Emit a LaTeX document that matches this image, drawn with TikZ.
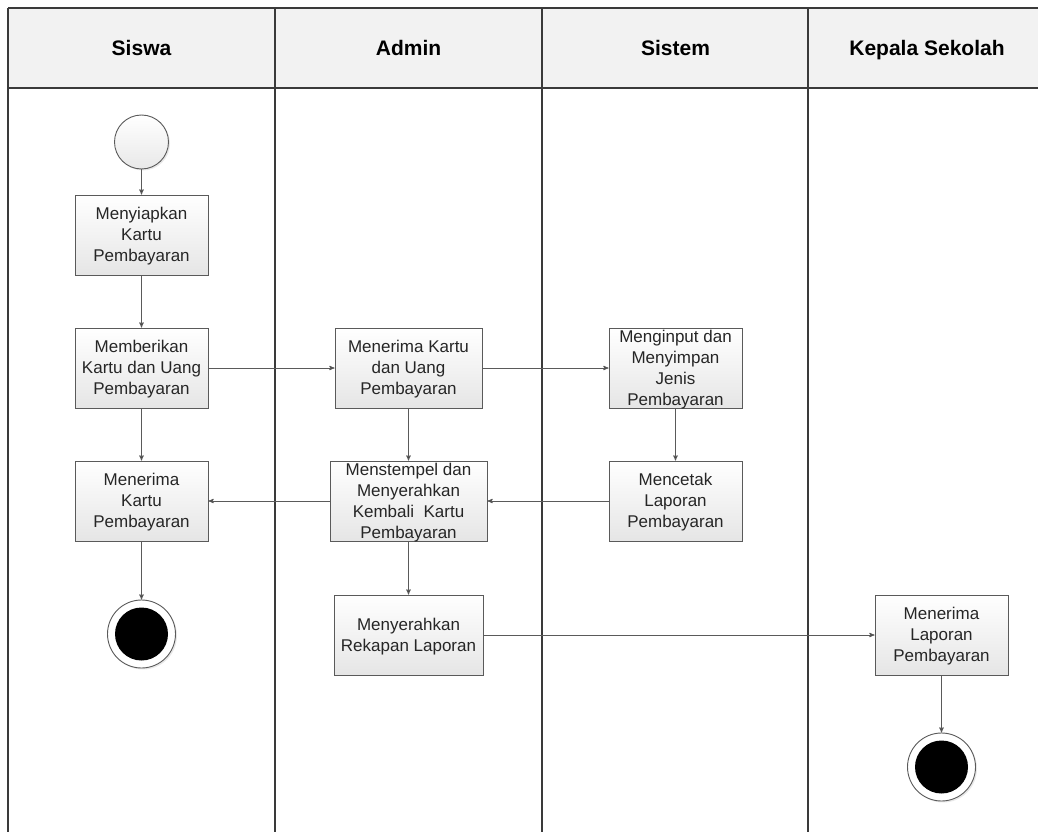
\documentclass[tikz,border=0pt]{standalone}
\usepackage{fontspec}
\setmainfont{Liberation Sans}
\usetikzlibrary{positioning, arrows, shadows}
\definecolor{lanegray}{HTML}{3A3A3A}
\definecolor{linegray}{HTML}{5A5A5A}
\definecolor{headfill}{HTML}{F2F2F2}
\tikzset{
	node distance=133pt,
	>=stealth',
	act/.style={draw=linegray, line width=0.9pt, top color=white, bottom color=gray!20,
		minimum width=133pt, minimum height=80pt, inner sep=0pt,
		font=\fontsize{17}{21}\selectfont, text=black!85},
	start/.style={circle, draw=linegray, line width=0.9pt, top color=white, bottom color=gray!18,
		minimum size=54pt, drop shadow={opacity=0.18, shadow xshift=1.5pt, shadow yshift=-1.5pt}},
	final/.style={circle, draw=linegray, line width=0.9pt, fill=white, minimum size=68pt,
		drop shadow={opacity=0.18, shadow xshift=1.5pt, shadow yshift=-1.5pt},
		path picture={\fill[black] (path picture bounding box.center) circle (26.5pt);}},
	lane/.style={draw=lanegray, line width=1.6pt},
	lanename/.style={font=\fontsize{21}{25}\selectfont\bfseries, text=black,
		text height=15pt, text depth=4pt},
	flow/.style={->, draw=linegray, line width=0.9pt}
}
\newcommand{\actlines}[1]{\smash{\raisebox{-6pt}{\begin{tabular}{@{}c@{}}#1\end{tabular}}}}

\begin{document}
\begin{tikzpicture}[x=1pt, y=-1pt]
		\useasboundingbox (0,0) rectangle (1038,832);
		%lanes
		\fill[headfill] (8,8) rectangle (1038,88);
		\draw[lane] (8,8) -- (1038,8) (8,88) -- (1038,88);
		\foreach \lx in {8,275,542,808}
			\draw[lane] (\lx,8) -- (\lx,832);
		\node[lanename] (hSiswa) at (141.5,50.5) {Siswa};
		\node[lanename] (hAdmin) at (408.5,50.5) {Admin};
		\node[lanename] (hSistem) at (675.5,50.5) {Sistem};
		\node[lanename] (hKepala) at (927,50.5) {Kepala Sekolah};
		
		%Siswa
		\node[act] (s2) at (141.5,368) {\actlines{Memberikan\\Kartu dan Uang\\Pembayaran}};
		\node[act, above of=s2] (s1) {\actlines{Menyiapkan\\Kartu\\Pembayaran}};
		\node[start, above of=s1, node distance=93pt] (s0) {};
		\node[act, below of=s2] (s3) {\actlines{Menerima\\Kartu\\Pembayaran}};
		\node[final, below of=s3] (s4) {};
		
		%Admin
		\node[act, minimum width=147pt, right of=s2, node distance=267pt] (a1) {\actlines{Menerima Kartu\\dan Uang\\Pembayaran}};
		\node[act, minimum width=157pt, below of=a1] (a2) {\actlines{Menstempel dan\\Menyerahkan\\Kembali\ \ Kartu\\Pembayaran}};
		\node[act, minimum width=149pt, below of=a2, node distance=134pt] (a3) {\actlines{Menyerahkan\\Rekapan Laporan}};
		
		%Sistem
		\node[act, right of=a1, node distance=267pt] (t1) {\actlines{Menginput dan\\Menyimpan\\Jenis\\Pembayaran}};
		\node[act, below of=t1] (t2) {\actlines{Mencetak\\Laporan\\Pembayaran}};
		
		%Kepala Sekolah
		\node[act, right of=a3, node distance=533pt] (k1) {\actlines{Menerima\\Laporan\\Pembayaran}};
		\node[final, below of=k1, node distance=132pt] (k2) {};
		
		\draw[flow]
		(s0) edge (s1)
		(s1) edge (s2)
		(s2) edge (s3)
		(s3) edge (s4)
		(s2) edge (a1)
		(a1) edge (t1)
		(t1) edge (t2)
		(t2) edge (a2)
		(a2) edge (s3)
		(a1) edge (a2)
		(a2) edge (a3)
		(a3) edge (k1)
		(k1) edge (k2);
	\end{tikzpicture}
\end{document}
